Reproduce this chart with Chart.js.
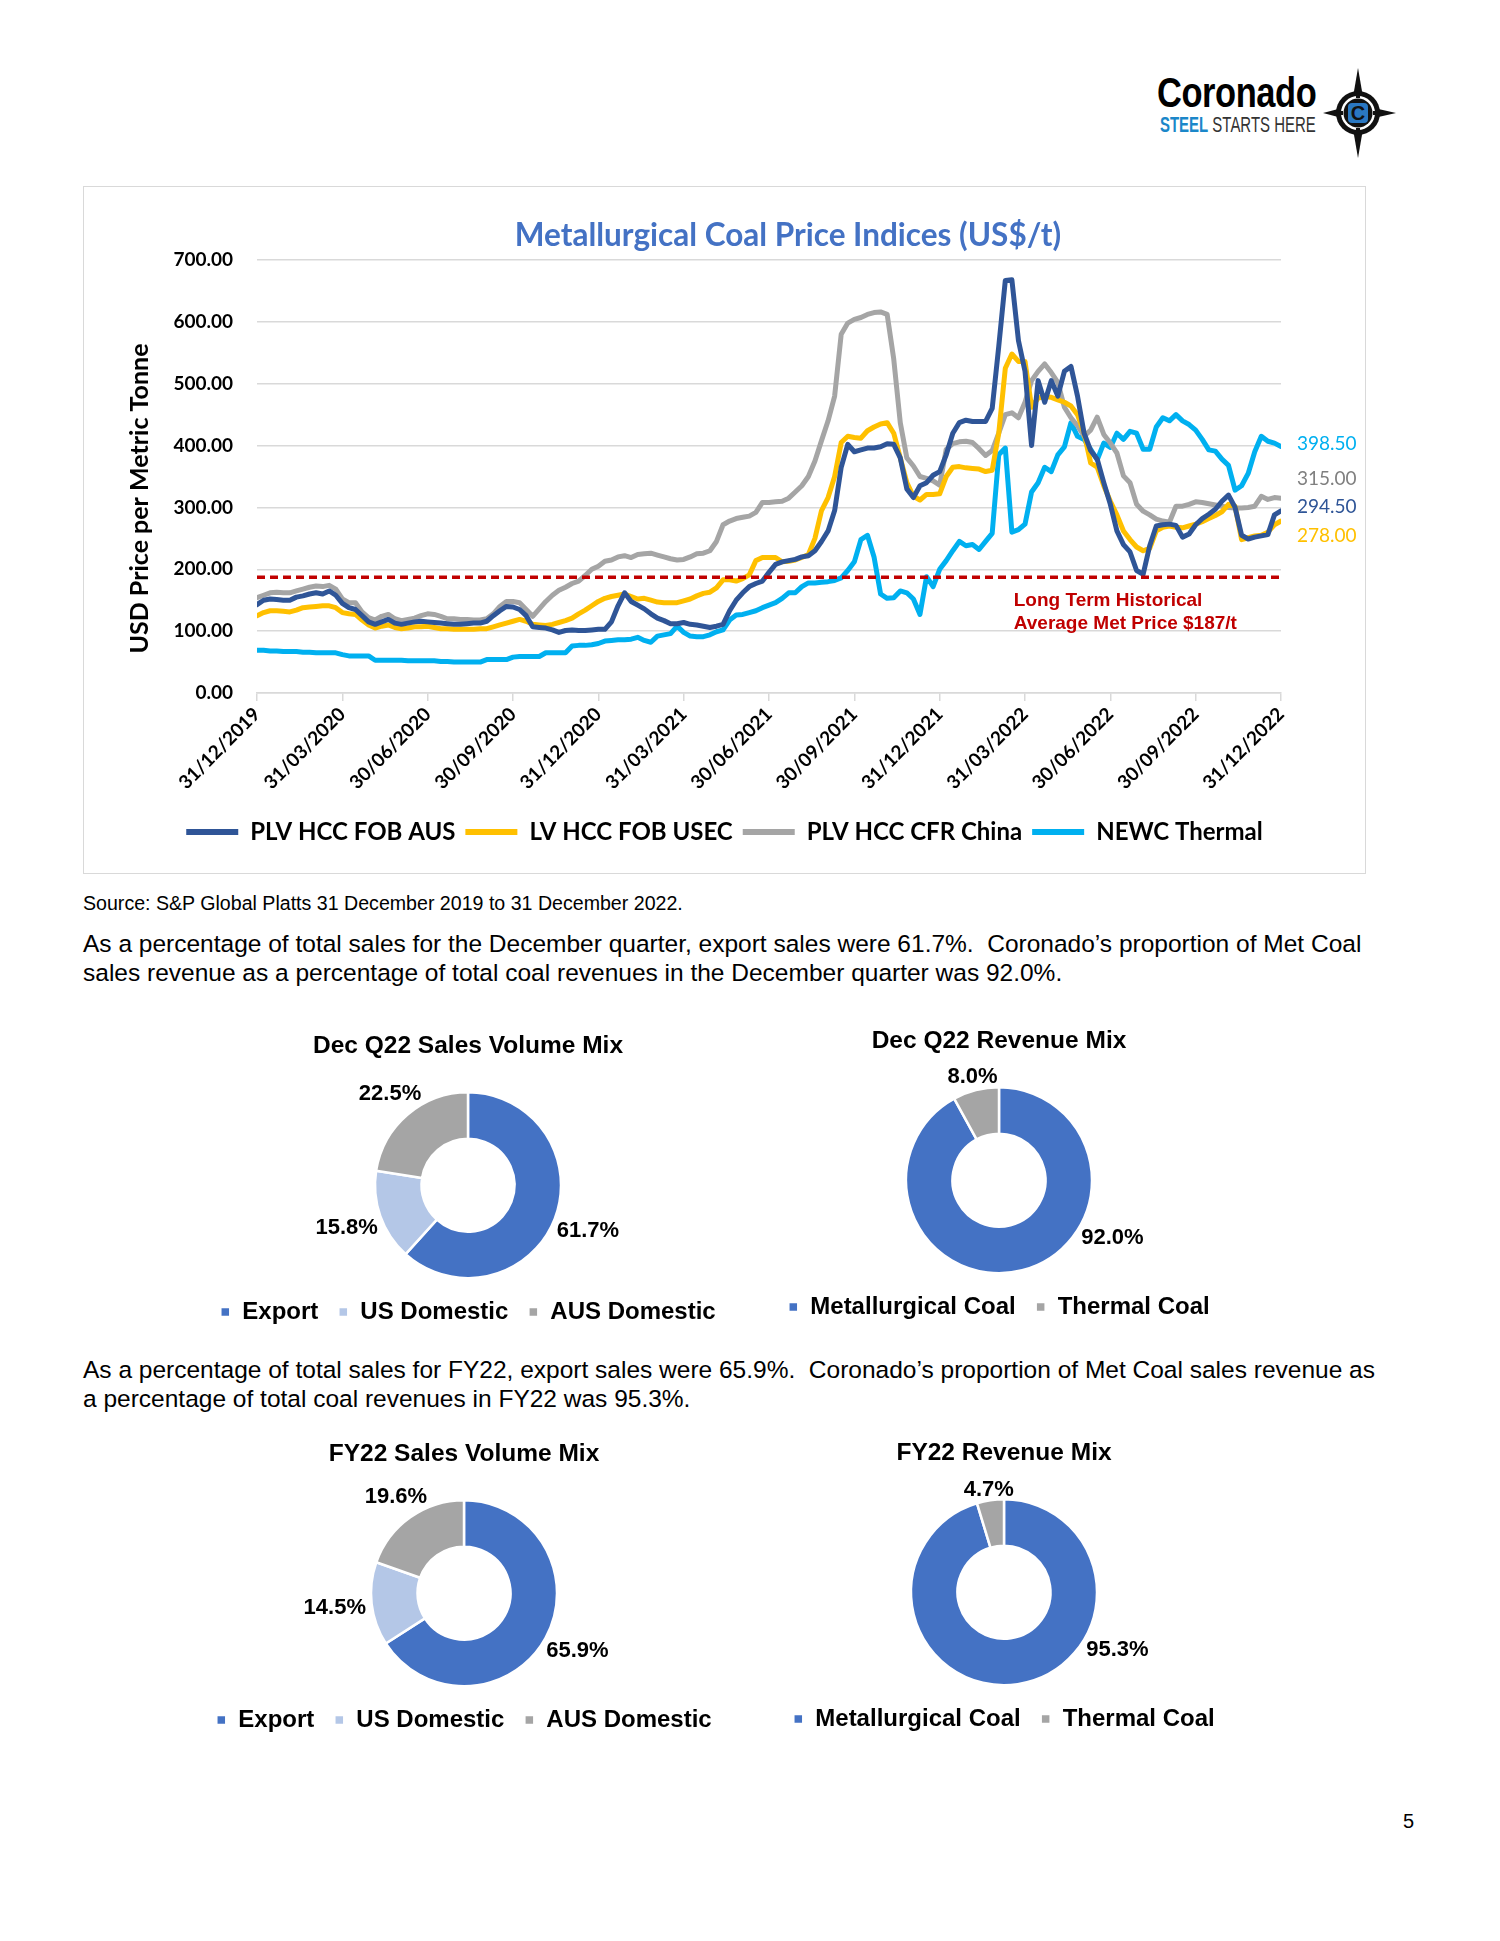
<!DOCTYPE html>
<html>
<head>
<meta charset="utf-8">
<title>Metallurgical Coal Price Indices</title>
<script src="https://cdn.jsdelivr.net/npm/chart.js@4.4.1/dist/chart.umd.min.js"></script>
<style>
  html, body { margin:0; padding:0; background:#fff; }
  body { position:relative; width:1500px; height:1941px; overflow:hidden; font-family:"Liberation Sans", Arial, sans-serif; color:#000; }
  .abs { position:absolute; }
  #frame { left:83px; top:186px; width:1283px; height:688px; box-sizing:border-box; border:1.5px solid #d9d9d9; }
  #lineCanvas { left:83px; top:186px; }
  #lineTitle { left:438px; width:700px; top:215px; text-align:center; font-family:Lato, sans-serif; font-weight:bold; font-size:31.5px; line-height:38px; color:#4472C4; white-space:nowrap; }
  .src { left:83px; top:892px; font-size:19.6px; line-height:22px; white-space:nowrap; }
  .para { left:83px; font-size:24.5px; line-height:28.5px; white-space:nowrap; }
  .pageno { left:1403px; top:1809px; font-size:20px; line-height:24px; }
  .logoText { left:1157px; top:70px; font-weight:bold; font-size:42px; line-height:46px; transform:scaleX(0.82); transform-origin:left top; white-space:nowrap; letter-spacing:-0.5px; }
  .logoSub { left:1160px; top:113px; font-size:22px; line-height:24px; transform:scaleX(0.68); transform-origin:left top; white-space:nowrap; color:#333; }
  .logoSub b { color:#1b87c9; }
</style>
</head>
<body>

<div class="abs logoText">Coronado</div>
<div class="abs logoSub"><b>STEEL</b> STARTS HERE</div>
<svg class="abs" style="left:1318px;top:67px" width="80" height="92" viewBox="-40 -46 80 92">
  <polygon points="0,-45 5,-16 -5,-16" fill="#111"/>
  <polygon points="0,45 5,16 -5,16" fill="#111"/>
  <polygon points="-35,0 -16,5 -16,-5" fill="#111"/>
  <polygon points="38,0 16,5 16,-5" fill="#111"/>
  <circle r="22" fill="#111"/>
  <circle r="17" fill="#fff"/>
  <circle r="14.5" fill="#111"/>
  <rect x="-2" y="-19" width="4" height="4" fill="#111"/>
  <rect x="-2" y="15" width="4" height="4" fill="#111"/>
  <rect x="-19" y="-2" width="4" height="4" fill="#111"/>
  <rect x="15" y="-2" width="4" height="4" fill="#111"/>
  <rect x="-10" y="-10" width="20" height="20" rx="4" fill="#2a78c2"/>
  <text x="0" y="7" text-anchor="middle" font-family="Liberation Sans" font-weight="bold" font-size="20" fill="#111">C</text>
</svg>

<div id="frame" class="abs"></div>
<canvas id="lineCanvas" class="abs" width="1283" height="688"></canvas>
<div id="lineTitle" class="abs">Metallurgical Coal Price Indices (US$/t)</div>

<div class="abs src">Source: S&amp;P Global Platts 31 December 2019 to 31 December 2022.</div>
<div class="abs para" style="top:930px">As a percentage of total sales for the December quarter, export sales were 61.7%.&nbsp; Coronado’s proportion of Met Coal<br>sales revenue as a percentage of total coal revenues in the December quarter was 92.0%.</div>

<canvas id="d1" class="abs" width="600" height="330" style="left:168px;top:1018px"></canvas>
<canvas id="d2" class="abs" width="600" height="330" style="left:699px;top:1013px"></canvas>

<div class="abs para" style="top:1356px">As a percentage of total sales for FY22, export sales were 65.9%.&nbsp; Coronado’s proportion of Met Coal sales revenue as<br>a percentage of total coal revenues in FY22 was 95.3%.</div>

<canvas id="d3" class="abs" width="600" height="330" style="left:164px;top:1426px"></canvas>
<canvas id="d4" class="abs" width="600" height="330" style="left:704px;top:1425px"></canvas>

<div class="abs pageno">5</div>

<script>
// ---------------- DATA ----------------
const quarterLabels = ['31/12/2019','31/03/2020','30/06/2020','30/09/2020','31/12/2020','31/03/2021','30/06/2021','30/09/2021','31/12/2021','31/03/2022','30/06/2022','30/09/2022','31/12/2022'];
const WEEKS_PER_QUARTER = 13;
const seriesNames = ['PLV HCC FOB AUS', 'LV HCC FOB USEC', 'PLV HCC CFR China', 'NEWC Thermal'];
const yAxisTitle = 'USD Price per Metric Tonne';

// weekly readings, 31/12/2019 .. 31/12/2022 (US$/t)
const plvHccFobAus = [143,150,152,151,150,150,155,157,160,162,160,165,158,145,138,135,125,115,111,115,119,113,111,113,115,116,115,114,113,112,111,111,112,113,113,116,125,133,140,139,135,125,107,106,105,102,98,101,102,101,101,102,103,103,115,141,162,148,142,136,128,121,117,112,112,114,111,110,108,106,108,111,133,150,162,172,177,181,195,208,212,214,216,220,222,230,245,262,295,365,402,390,393,396,396,398,403,402,380,330,316,335,340,352,358,385,420,437,441,439,439,439,460,560,667,668,570,520,400,505,470,505,480,520,528,480,420,392,378,340,305,262,240,228,198,192,238,270,272,273,271,252,257,272,282,289,297,310,320,300,255,249,252,254,256,288,294.5];
const lvHccFobUsec = [125,130,133,133,132,131,134,138,139,140,141,141,138,130,128,127,118,110,105,108,110,106,104,105,107,107,108,106,104,104,103,103,103,103,104,104,107,110,113,116,119,116,111,110,109,111,114,117,121,128,134,141,148,153,156,158,160,156,152,153,150,147,146,146,146,149,152,157,161,163,170,183,183,181,185,191,214,219,219,219,212,213,215,219,224,250,295,316,350,405,415,413,412,424,430,435,437,420,380,340,318,312,321,321,322,350,365,366,364,363,362,358,360,420,525,548,536,536,462,477,479,478,474,470,464,450,420,372,365,335,310,288,262,248,236,230,234,262,268,270,268,267,270,273,277,282,287,293,305,302,248,251,254,255,260,272,278];
const plvHccCfrChina = [154,158,162,163,162,162,165,168,171,173,172,174,168,152,146,146,131,122,118,124,127,120,117,119,121,125,128,127,124,120,120,119,119,118,118,120,128,140,148,148,146,135,124,136,148,158,166,171,177,181,190,200,205,213,215,220,222,219,224,225,226,223,220,217,215,216,220,225,226,230,245,272,278,282,284,286,292,308,308,309,310,315,325,335,350,375,408,440,480,580,598,604,607,612,615,616,612,540,437,380,367,350,347,343,336,394,403,406,407,405,395,384,392,420,450,453,445,470,505,520,532,518,502,462,445,432,415,425,446,418,404,388,351,340,305,294,288,281,278,276,302,302,305,309,308,306,304,302,300,299,299,300,302,318,313,316,315];
const newcThermal = [69,69,68,68,67,67,67,66,66,65,65,65,65,62,60,60,60,60,53,53,53,53,53,52,52,52,52,52,51,51,50,50,50,50,50,54,54,54,54,58,59,59,59,59,65,65,65,65,76,77,77,78,80,84,85,86,86,87,90,85,82,92,94,96,108,98,92,91,91,94,99,102,118,126,127,130,133,138,142,146,153,162,162,172,178,178,179,180,182,186,198,212,248,255,220,160,153,154,165,162,152,127,188,172,200,214,230,245,238,240,232,245,258,385,396,260,264,273,325,340,365,358,385,398,437,415,410,394,377,404,397,420,410,423,420,394,394,430,445,440,450,440,434,425,410,393,391,378,368,328,335,355,390,415,407,404,398.5];
const longTermAverage = 187;
const longTermLabel = ['Long Term Historical', 'Average Met Price $187/t'];

const volumeCategories = ['Export', 'US Domestic', 'AUS Domestic'];
const revenueCategories = ['Metallurgical Coal', 'Thermal Coal'];
const decQ22Volume = [61.7, 15.8, 22.5];
const decQ22Revenue = [92.0, 8.0];
const fy22Volume = [65.9, 14.5, 19.6];
const fy22Revenue = [95.3, 4.7];

// ---------------- STYLE ----------------
const lineColors = ['#2F5597', '#FFC000', '#A5A5A5', '#00B0F0'];
const endLabelColors = ['#2F5597', '#FFC000', '#808080', '#00B0F0'];
const volumeColors = ['#4472C4', '#B4C7E7', '#A5A5A5'];
const revenueColors = ['#4472C4', '#A5A5A5'];
const weekIndex = plvHccFobAus.map((_, i) => i);

// reference line + annotation
const refLinePlugin = {
  id: 'refLine',
  afterDatasetsDraw(chart, args, opts) {
    const { ctx, chartArea, scales: { y } } = chart;
    const py = y.getPixelForValue(opts.value);
    ctx.save();
    ctx.strokeStyle = opts.color;
    ctx.lineWidth = 3.5;
    ctx.setLineDash([8, 5]);
    ctx.beginPath();
    ctx.moveTo(chartArea.left, py);
    ctx.lineTo(chartArea.right, py);
    ctx.stroke();
    ctx.setLineDash([]);
    ctx.fillStyle = opts.color;
    ctx.font = 'bold 19px "Liberation Sans", Arial, sans-serif';
    ctx.textAlign = 'left';
    ctx.textBaseline = 'middle';
    const lx = chartArea.left + chartArea.width * opts.labelAt;
    opts.text.forEach((t, i) => ctx.fillText(t, lx, py + 23 + i * 23));
    ctx.restore();
  }
};

// rotated y-axis title
const yTitlePlugin = {
  id: 'yTitle',
  afterDraw(chart, args, opts) {
    const { ctx, chartArea } = chart;
    ctx.save();
    ctx.font = 'bold 25px Lato, sans-serif';
    ctx.fillStyle = '#000';
    ctx.textAlign = 'center';
    ctx.textBaseline = 'middle';
    ctx.translate(chartArea.left - opts.inset, (chartArea.top + chartArea.bottom) / 2 + opts.shift);
    ctx.rotate(-Math.PI / 2);
    ctx.fillText(opts.text, 0, 0);
    ctx.restore();
  }
};

// end-of-series value labels, spread so they don't overlap
const endLabelPlugin = {
  id: 'endLabels',
  afterDatasetsDraw(chart, args, opts) {
    const { ctx, chartArea, scales: { y } } = chart;
    const items = chart.data.datasets.map((ds, i) => {
      const v = ds.data[ds.data.length - 1];
      return { text: v.toFixed(2), color: opts.colors[i], y: y.getPixelForValue(v) };
    }).sort((a, b) => a.y - b.y);
    const gap = opts.gap;
    let clusters = items.map(it => ({ items: [it], y: it.y }));
    let merged = true;
    while (merged) {
      merged = false;
      for (let i = 0; i < clusters.length - 1; i++) {
        const a = clusters[i], b = clusters[i + 1];
        const aBottom = a.y + (a.items.length - 1) * gap / 2;
        const bTop = b.y - (b.items.length - 1) * gap / 2;
        if (bTop - aBottom < gap) {
          const all = a.items.concat(b.items);
          const mean = all.reduce((s, it) => s + it.y, 0) / all.length;
          clusters.splice(i, 2, { items: all, y: mean });
          merged = true;
          break;
        }
      }
    }
    ctx.save();
    ctx.font = '19px Lato, sans-serif';
    ctx.textAlign = 'left';
    ctx.textBaseline = 'middle';
    clusters.forEach(c => c.items.forEach((it, k) => {
      ctx.fillStyle = it.color;
      ctx.fillText(it.text, chartArea.right + 16, c.y + (k - (c.items.length - 1) / 2) * gap - 3);
    }));
    ctx.restore();
  }
};

new Chart(document.getElementById('lineCanvas'), {
  type: 'line',
  data: {
    labels: weekIndex,
    datasets: [plvHccFobAus, lvHccFobUsec, plvHccCfrChina, newcThermal].map((d, i) => ({
      label: seriesNames[i], data: d, borderColor: lineColors[i], backgroundColor: lineColors[i]
    }))
  },
  options: {
    responsive: false,
    animation: false,
    events: [],
    elements: { point: { radius: 0 }, line: { borderWidth: 5, tension: 0, borderJoinStyle: 'round', borderCapStyle: 'round' } },
    layout: { padding: { top: 74, right: 0, bottom: 20, left: 0 } },
    scales: {
      x: {
        type: 'linear', min: 0, max: weekIndex.length - 1,
        grid: { drawOnChartArea: false, drawTicks: true, tickLength: 8, color: '#d9d9d9', lineWidth: 1.5 },
        border: { display: true, color: '#d9d9d9', width: 1.5 },
        ticks: {
          stepSize: WEEKS_PER_QUARTER, autoSkip: false, maxRotation: 45, minRotation: 45, padding: 2,
          color: '#000', font: { family: 'Lato', weight: 'bold', size: 19 },
          callback: v => quarterLabels[Math.round(v / WEEKS_PER_QUARTER)]
        },
        afterFit: s => { s.height = 117; }
      },
      y: {
        min: 0, max: 700,
        grid: { color: '#d9d9d9', lineWidth: 1.5, drawTicks: false },
        border: { display: false },
        ticks: { stepSize: 100, padding: 24, color: '#000', font: { family: 'Lato', weight: 'bold', size: 19 }, callback: v => v.toFixed(2) },
        afterFit: s => { s.width = 174; }
      },
      labelSpace: {
        type: 'linear', position: 'right', display: true,
        grid: { display: false }, border: { display: false }, ticks: { display: false },
        afterFit: s => { s.width = 85; }
      }
    },
    plugins: {
      legend: {
        position: 'bottom',
        labels: {
          boxWidth: 52, boxHeight: 6, padding: 10, color: '#000',
          font: { family: 'Lato', weight: 'bold', size: 24 },
          generateLabels: chart => Chart.defaults.plugins.legend.labels.generateLabels(chart).map(l => Object.assign(l, { lineWidth: 0 }))
        }
      },
      tooltip: { enabled: false },
      refLine: { value: longTermAverage, color: '#C00000', text: longTermLabel, labelAt: 0.739 },
      endLabels: { colors: endLabelColors, gap: 28.5 },
      yTitle: { text: yAxisTitle, inset: 117, shift: 22 }
    }
  },
  plugins: [refLinePlugin, endLabelPlugin, yTitlePlugin]
});

// ---------------- DOUGHNUTS ----------------
const pctLabelPlugin = {
  id: 'pctLabels',
  afterDatasetsDraw(chart, args, opts) {
    const { ctx } = chart;
    const meta = chart.getDatasetMeta(0);
    const values = chart.data.datasets[0].data;
    ctx.save();
    ctx.font = 'bold 22px "Liberation Sans", Arial, sans-serif';
    ctx.fillStyle = '#000';
    ctx.textAlign = 'center';
    ctx.textBaseline = 'middle';
    meta.data.forEach((arc, i) => {
      const p = arc.getProps(['x', 'y', 'startAngle', 'endAngle', 'outerRadius'], true);
      const s = p.startAngle + Math.PI / 2, e = p.endAngle + Math.PI / 2; // clockwise from 12 o'clock
      let a = (s + e) / 2;
      if (s <= opts.maxAngle && e >= opts.maxAngle && a > opts.maxAngle) a = opts.maxAngle;
      const dx = Math.sin(a), dy = -Math.cos(a);
      const text = values[i].toFixed(1) + '%';
      const w = ctx.measureText(text).width, h = 2;
      const dist = p.outerRadius + 6 + Math.abs(dx) * w / 2 + Math.abs(dy) * h / 2;
      ctx.fillText(text, p.x + dx * dist, p.y + dy * dist);
    });
    ctx.restore();
  }
};

function makeDoughnut(id, title, labels, values, colors) {
  return new Chart(document.getElementById(id), {
    type: 'doughnut',
    data: { labels, datasets: [{ data: values, backgroundColor: colors, borderColor: '#ffffff', borderWidth: 2.5, radius: 93, cutout: '50%' }] },
    options: {
      responsive: false,
      animation: false,
      events: [],
      radius: 93,
      cutout: '50%',
      layout: { padding: { top: 0, bottom: 14, left: 0, right: 0 } },
      plugins: {
        title: { display: true, text: title, color: '#000', font: { family: 'Liberation Sans', weight: 'bold', size: 24.5 }, padding: { top: 14, bottom: 29 } },
        legend: {
          position: 'bottom',
          labels: { boxWidth: 10, boxHeight: 10, padding: 20, color: '#000', font: { family: 'Liberation Sans', weight: 'bold', size: 24 } }
        },
        tooltip: { enabled: false },
        pctLabels: { maxAngle: 117 * Math.PI / 180 }
      }
    },
    plugins: [pctLabelPlugin]
  });
}

makeDoughnut('d1', 'Dec Q22 Sales Volume Mix', volumeCategories, decQ22Volume, volumeColors);
makeDoughnut('d2', 'Dec Q22 Revenue Mix', revenueCategories, decQ22Revenue, revenueColors);
makeDoughnut('d3', 'FY22 Sales Volume Mix', volumeCategories, fy22Volume, volumeColors);
makeDoughnut('d4', 'FY22 Revenue Mix', revenueCategories, fy22Revenue, revenueColors);
</script>
</body>
</html>
